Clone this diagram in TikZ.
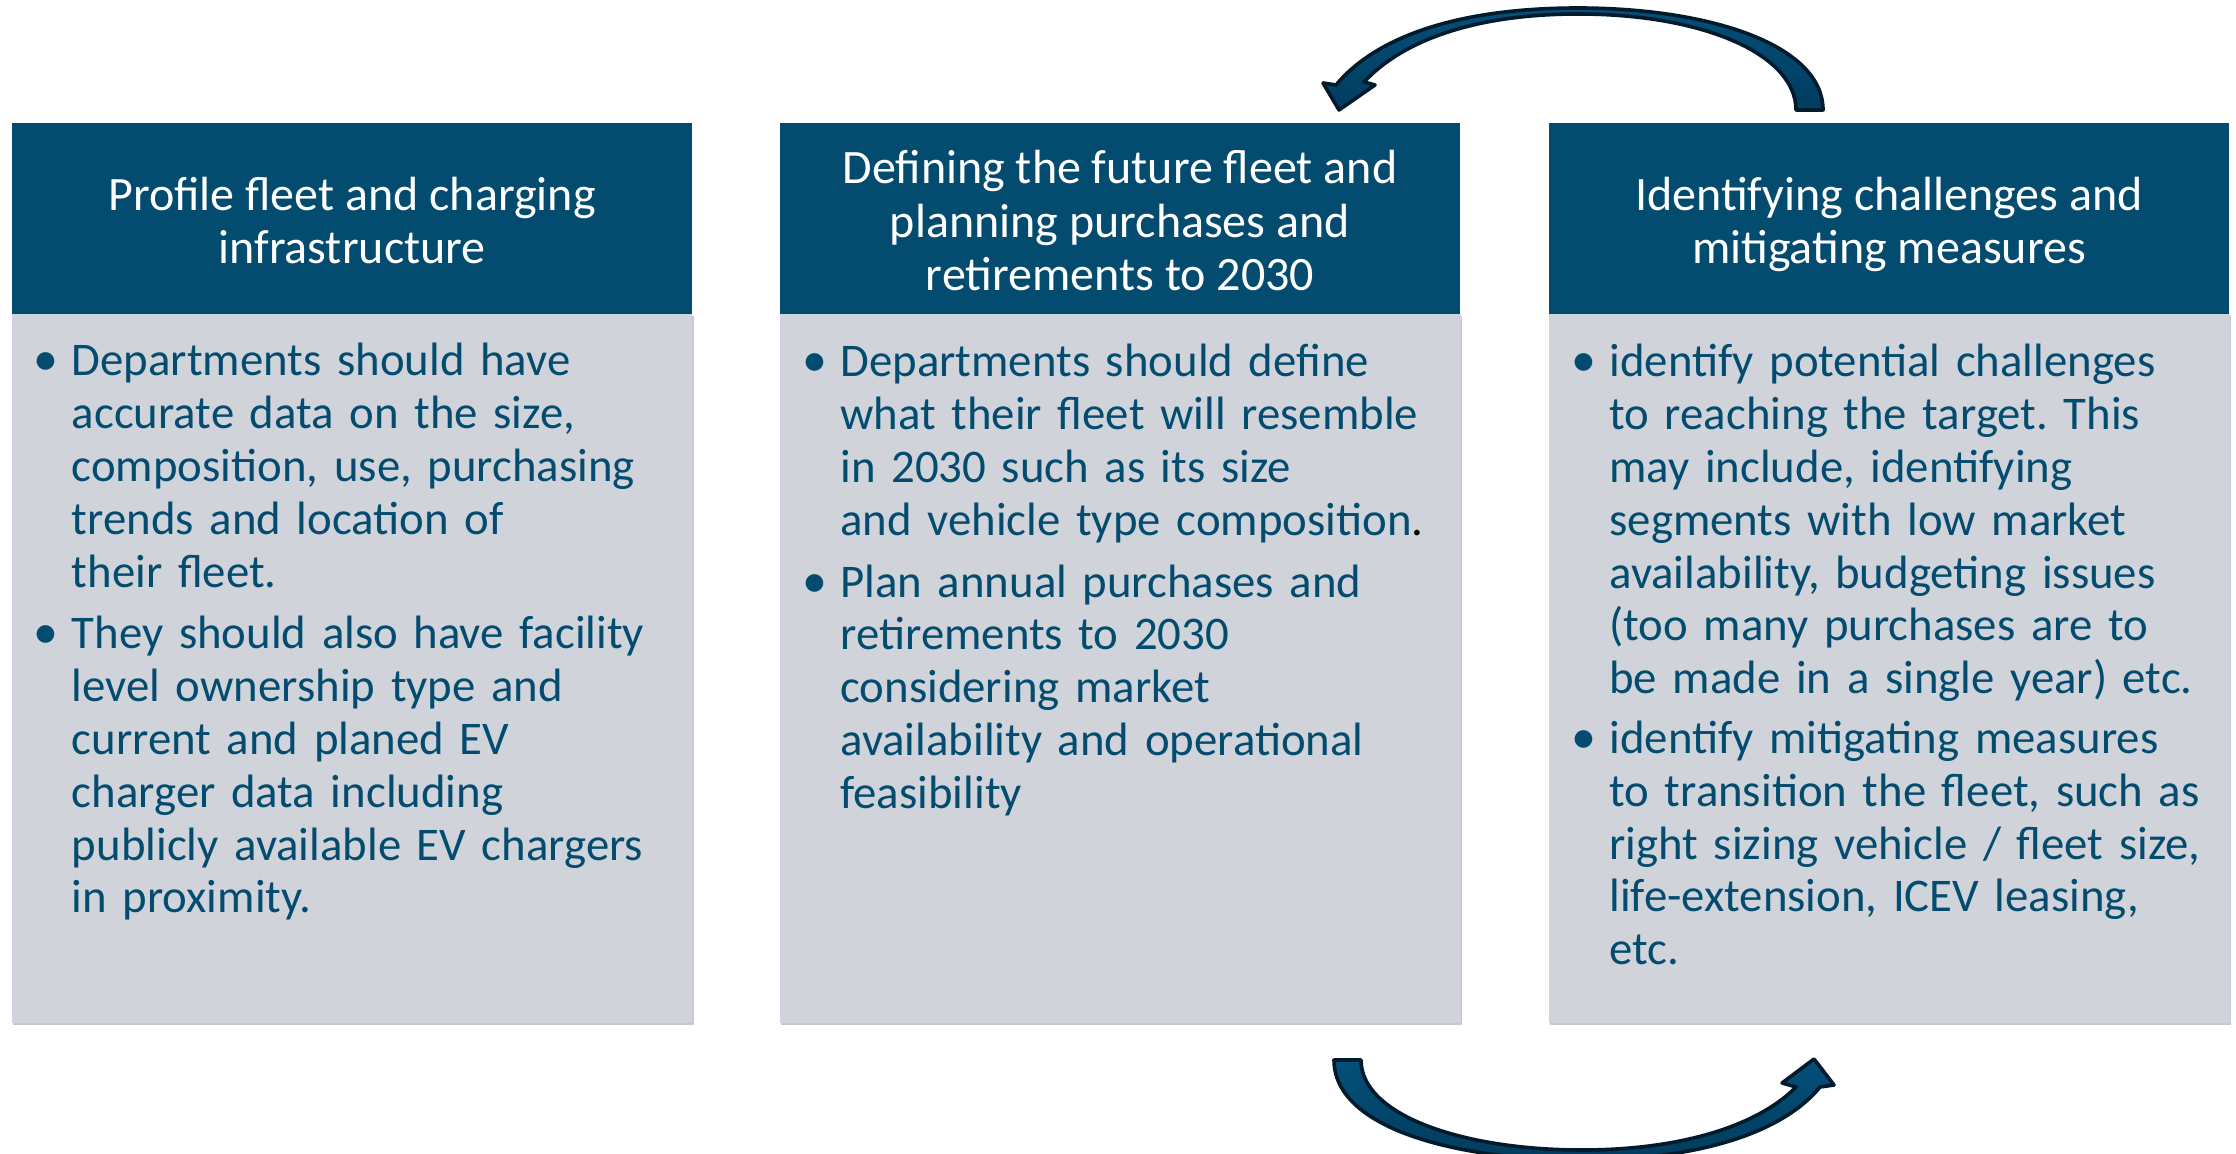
\documentclass[tikz,border=0pt]{standalone}
\usepackage{fontspec}
\setmainfont{Carlito}
\frenchspacing
\definecolor{hdr}{HTML}{034C70}
\definecolor{bodyg}{HTML}{D0D4DA}
\definecolor{bodyedge}{HTML}{C4C9CF}
\definecolor{txt}{HTML}{034C70}
\definecolor{arrowedge}{HTML}{011B2D}
\definecolor{arrowtop}{HTML}{03507A}
\definecolor{arrowbot}{HTML}{023C5E}
\newcommand\itembul{\leavevmode\llap{{\fontsize{25}{26}\selectfont\textbullet}\hspace{6.5pt}}}
\begin{document}
\begin{tikzpicture}[x=0.5pt,y=-0.5pt,
  headbox/.style={fill=hdr, draw=none, inner sep=0pt, minimum width=340.25pt,
    minimum height=95.5pt},
  headtext/.style={text=white, align=center, inner sep=0pt,
    font=\fontsize{24}{26.6}\selectfont},
  bodybox/.style={fill=bodyg, draw=none, inner sep=0pt, minimum width=340.25pt,
    minimum height=354.5pt, anchor=north west},
  bodytext/.style={text=txt, align=left, text width=320pt, inner sep=0pt,
    anchor=base west, font=\fontsize{23.4}{26.4}\selectfont},
  looparrow/.style={draw=arrowedge, line width=1.8pt, line join=round,
    top color=arrowtop, bottom color=arrowbot}
]
\useasboundingbox (0,0) rectangle (2236,1154);
\fill[white] (0,0) rectangle (2236,1154);

% column bodies (with a faint lower edge) and headers
\foreach \x/\n in {11.5/1, 780/2, 1549/3}{
  \fill[bodyedge] (\x+1,316) rectangle (\x+682,1025);
  \node[bodybox] (b\n) at (\x,314) {};
}
\node[headbox] (h1) at (352,218.5) {};
\node[headbox] (h2) at (1120,218.5) {};
\node[headbox] (h3) at (1889,218.5) {};
\node[headtext] (ht1) at ([yshift=-4pt]h1.center) {\strut Profile fleet and charging\\infrastructure\strut};
\node[headtext] (ht2) at ([yshift=-4pt]h2.center) {\strut Defining the future fleet and\\planning purchases and\\retirements to 2030\strut};
\node[headtext] (ht3) at ([yshift=-4pt]h3.center) {\strut Identifying challenges and\\mitigating measures\strut};

% bullet lists
\node[bodytext] (t1) at (71.5,376) {%
\itembul Departments should have\\accurate data on the size,\\composition, use, purchasing\\trends and location of\\their fleet.\par\vspace{4.5pt}
\itembul They should also have facility\\level ownership type and\\current and planed EV\\charger data including\\publicly available EV chargers\\in proximity.};

\node[bodytext] (t2) at (840,377) {%
\itembul Departments should define\\what their fleet will resemble\\in 2030 such as its size\\and vehicle type composition{\color{black}.}\par\vspace{4.5pt}
\itembul Plan annual purchases and\\retirements to 2030\\considering market\\availability and operational\\feasibility};

\node[bodytext] (t3) at (1609,377) {%
\itembul identify potential challenges\\to reaching the target. This\\may include, identifying\\segments with low market\\availability, budgeting issues\\(too many purchases are to\\be made in a single year) etc.\par\vspace{3.5pt}
\itembul identify mitigating measures\\to transition the fleet, such as\\right sizing vehicle / fleet size,\\life-extension, ICEV leasing,\\etc.};

% curved block arrows
\begin{scope}
\clip (0,0) rectangle (2236,1154);
% top: from the third column back to the second
\path[looparrow] (1823,110)
  .. controls (1823,45) and (1710,8) .. (1578,8)
  .. controls (1455,8) and (1375,38) .. (1336,85)
  -- (1323,83) -- (1339,110) -- (1375,85) -- (1364,82)
  .. controls (1405,38) and (1480,14) .. (1578,14)
  .. controls (1705,14) and (1796,55) .. (1796,110) -- cycle;
% bottom: from the second column on to the third
\path[looparrow] (1334,1060)
  .. controls (1334,1128) and (1455,1160) .. (1582,1160)
  .. controls (1705,1160) and (1785,1130) .. (1820,1087)
  -- (1834,1085) -- (1814,1059) -- (1782,1083) -- (1796,1087)
  .. controls (1760,1124) and (1685,1150) .. (1582,1150)
  .. controls (1462,1150) and (1361,1115) .. (1361,1060) -- cycle;
\end{scope}
\end{tikzpicture}
\end{document}
